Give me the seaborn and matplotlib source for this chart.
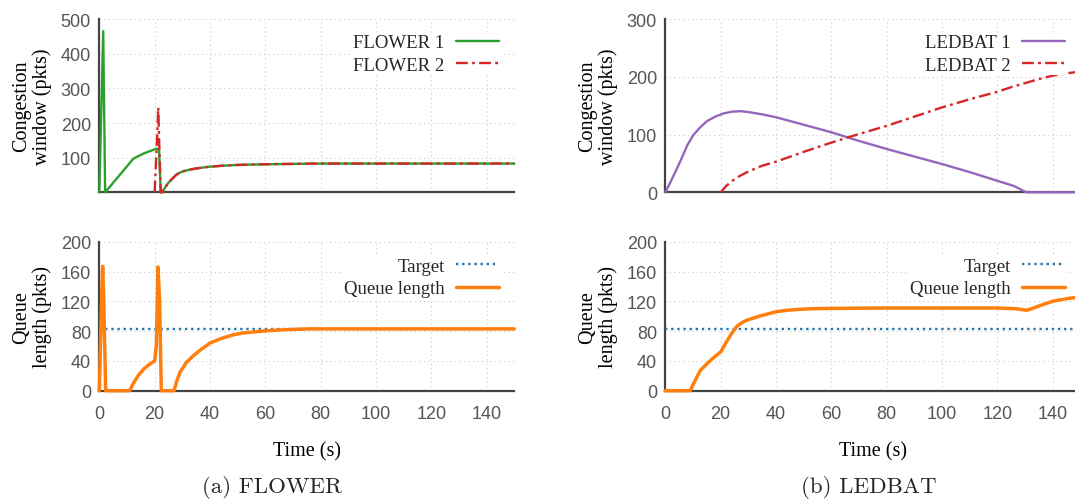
import matplotlib
matplotlib.use("Agg")
import matplotlib.pyplot as plt
import seaborn as sns
import pandas as pd

# ---- FLOWER: congestion windows (pkts) ----
flower1_t = [0, 0.6, 1.4, 2.1, 12.3, 16, 20.7, 21.6, 22.2, 22.6, 25, 28, 30, 33, 36, 40, 45, 50, 60, 70, 80, 100, 120, 150]
flower1_w = [0, 200, 465, 0, 97, 112, 126, 122, 0, 0, 28, 52, 60, 66, 70, 74, 77, 79, 81, 82, 83, 83, 83, 83]
flower2_t = [20, 21.0, 21.3, 21.8, 22.2, 22.6, 25, 28, 30, 33, 36, 40, 45, 50, 60, 70, 80, 100, 120, 150]
flower2_w = [0, 180, 245, 100, 0, 0, 28, 52, 60, 66, 70, 74, 77, 79, 81, 82, 83, 83, 83, 83]

# ---- FLOWER: bottleneck queue (pkts) ----
flower_q_t = [0, 0.8, 1.2, 1.6, 2.3, 11.0, 12, 14, 16, 18, 20, 20.6, 21.2, 21.8, 22.4, 27.0, 28, 29.2, 31.5,
              34, 36.3, 40, 44, 48.4, 52, 56, 60.5, 65, 70, 76, 80, 100, 150]
flower_q = [0, 120, 167, 120, 0, 0, 8, 20, 29, 35, 40, 60, 166, 120, 0, 0, 13, 25, 38,
            47, 54, 64, 70, 75, 77.5, 79, 80.5, 81.5, 82.3, 83, 83, 83, 83]

# ---- LEDBAT: congestion windows (pkts) ----
ledbat1_t = [0, 2, 4, 6, 8, 10.1, 12.5, 15, 18, 21, 24, 27, 30, 35, 40, 50, 60, 70, 80, 90, 100, 110, 120, 126,
             130.5, 150]
ledbat1_w = [0, 19, 39, 60, 82, 99, 112, 123, 131, 136.5, 139.5, 140.5, 139, 135, 130, 117, 104, 89, 75, 62, 49,
             35, 20, 11, 0, 0]
ledbat2_t = [20, 22, 24, 26, 30, 35, 40, 50, 60, 70, 80, 90, 100, 110, 120, 125, 130, 135, 140, 145, 150]
ledbat2_w = [0, 11, 19, 26, 36, 46, 53, 70, 86, 101, 115, 131, 147, 161, 174, 182, 189, 196, 202, 206, 209]

# ---- LEDBAT: bottleneck queue (pkts) ----
ledbat_q_t = [0, 9, 10, 12.6, 15, 17, 20, 22, 24, 26, 28, 29.7, 34.6, 38, 40, 44, 50, 55, 60, 80, 100, 120, 127,
              130.5, 132, 136, 140, 144, 148, 150]
ledbat_q = [0, 0, 8, 27, 36, 43, 52, 65, 77, 87, 92, 95, 100.7, 104, 106, 108, 109.6, 110.2, 110.5, 111, 111, 111, 110,
            108, 109.5, 115, 120, 123, 125, 126]

target_t = [0, 150]
target_q = [83, 83]

x_ticks = [0, 20, 40, 60, 80, 100, 120, 140]
flower_cwnd_ticks = [100, 200, 300, 400, 500]
ledbat_cwnd_ticks = [0, 100, 200, 300]
queue_ticks = [0, 40, 80, 120, 160, 200]

GREEN = "#2ca02c"
RED = "#d62728"
PURPLE = "#9467bd"
ORANGE = "#ff7f0e"
BLUE = "#1f77b4"
AXIS = "#444444"

sns.set_theme(style="white")
plt.rcParams["font.family"] = ["Liberation Serif", "DejaVu Serif"]
TICK_FONT = ["Liberation Sans Narrow", "Liberation Sans", "DejaVu Sans"]
LABEL_SIZE = 14.5
LEGEND_SIZE = 13.5
DASHDOT = (0, (5, 1.8, 1.2, 1.8))

fig = plt.figure(figsize=(10.75, 5.02), dpi=100)
ax_fc = fig.add_axes([0.0924, 0.6149, 0.3860, 0.3452])
ax_fq = fig.add_axes([0.0924, 0.2197, 0.3860, 0.2968])
ax_lc = fig.add_axes([0.6189, 0.6149, 0.3860, 0.3452])
ax_lq = fig.add_axes([0.6189, 0.2197, 0.3860, 0.2968])


def line(ax, t, v, **kw):
    df = pd.DataFrame({"t": t, "v": v})
    sns.lineplot(data=df, x="t", y="v", ax=ax, estimator=None, sort=False,
                 clip_on=False, zorder=3, **kw)


def style_axes(ax, ylim, yticks, ylabel, show_xlabels):
    ax.set_xlim(0, 150)
    ax.set_ylim(*ylim)
    ax.set_xticks(x_ticks)
    ax.set_yticks(yticks)
    for side in ("top", "right"):
        ax.spines[side].set_visible(False)
    for side in ("left", "bottom"):
        ax.spines[side].set_color(AXIS)
        ax.spines[side].set_linewidth(1.6)
    ax.grid(True, color="#cacaca", linestyle=(0, (1, 3)), linewidth=0.8)
    ax.set_axisbelow(True)
    ax.tick_params(axis="x", direction="in", length=7.5, width=1.5, color=AXIS,
                   labelcolor="#555555", labelsize=13, pad=10, labelbottom=show_xlabels)
    ax.tick_params(axis="y", direction="in", length=6.5, width=1.5, color=AXIS,
                   labelcolor="#555555", labelsize=13, pad=6)
    for lab in ax.get_xticklabels() + ax.get_yticklabels():
        lab.set_family(TICK_FONT)
    ax.set_ylabel(ylabel, fontsize=LABEL_SIZE, va="center", ha="center",
                  linespacing=1.05, color="black")
    ax.yaxis.set_label_coords(-0.162, 0.5)
    if show_xlabels:
        ax.set_xlabel("Time (s)", fontsize=LABEL_SIZE, color="black")
        ax.xaxis.set_label_coords(0.5, -0.34)
    else:
        ax.set_xlabel("")


def add_legend(ax, right, top):
    leg = ax.legend(loc="upper right", bbox_to_anchor=(right, top), markerfirst=False,
                    frameon=True, facecolor="white", edgecolor="none", framealpha=1,
                    fontsize=LEGEND_SIZE, handlelength=2.3, handletextpad=0.6,
                    labelspacing=0.3, borderpad=0.05, borderaxespad=0)
    leg.get_frame().set_linewidth(0)


# FLOWER congestion windows
line(ax_fc, flower1_t, flower1_w, color=GREEN, linewidth=1.7, label="FLOWER 1")
line(ax_fc, flower2_t, flower2_w, color=RED, linewidth=1.7, linestyle=DASHDOT, label="FLOWER 2")
style_axes(ax_fc, (0, 500), flower_cwnd_ticks, "Congestion\nwindow (pkts)", False)
add_legend(ax_fc, 0.965, 0.918)

# FLOWER queue
line(ax_fq, target_t, target_q, color=BLUE, linewidth=1.7, linestyle=(0, (1, 1.6)), label="Target")
line(ax_fq, flower_q_t, flower_q, color=ORANGE, linewidth=2.5, label="Queue length")
style_axes(ax_fq, (0, 200), queue_ticks, "Queue\nlength (pkts)", True)
add_legend(ax_fq, 0.965, 0.90)

# LEDBAT congestion windows
line(ax_lc, ledbat1_t, ledbat1_w, color=PURPLE, linewidth=1.7, label="LEDBAT 1")
line(ax_lc, ledbat2_t, ledbat2_w, color=RED, linewidth=1.7, linestyle=DASHDOT, label="LEDBAT 2")
style_axes(ax_lc, (0, 300), ledbat_cwnd_ticks, "Congestion\nwindow (pkts)", False)
add_legend(ax_lc, 0.965, 0.918)

# LEDBAT queue
line(ax_lq, target_t, target_q, color=BLUE, linewidth=1.7, linestyle=(0, (1, 1.6)), label="Target")
line(ax_lq, ledbat_q_t, ledbat_q, color=ORANGE, linewidth=2.5, label="Queue length")
style_axes(ax_lq, (0, 200), queue_ticks, "Queue\nlength (pkts)", True)
add_legend(ax_lq, 0.965, 0.90)

fig.text(272 / 1075, 1 - 488 / 502, "(a) FLOWER", family="cmr10", fontsize=16.5,
         ha="center", va="center")
fig.text(869 / 1075, 1 - 488 / 502, "(b) LEDBAT", family="cmr10", fontsize=16.5,
         ha="center", va="center")

fig.savefig("out.png", dpi=100)
